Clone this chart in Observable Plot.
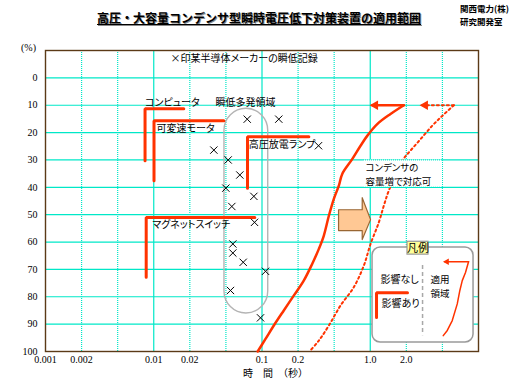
<!DOCTYPE html>
<html><head><meta charset="utf-8">
<script src="https://cdn.jsdelivr.net/npm/d3@7"></script>
<script src="https://cdn.jsdelivr.net/npm/@observablehq/plot@0.6"></script>
<style>
body{margin:0;background:#fff;}
#wrap{position:relative;width:514px;height:383px;overflow:hidden;}
#chart{position:absolute;left:0;top:0;}
.jp{position:absolute;font-family:"Noto Sans CJK JP",sans-serif;color:#000;white-space:nowrap;}
#title{left:97px;top:11px;font-size:12px;line-height:14px;font-weight:bold;text-decoration:underline;text-shadow:1px 1px 0 #8a8a8a;}
#org{left:460px;top:2px;font-size:8.5px;line-height:12.5px;font-weight:bold;}
#org div{height:12.5px;}
#xlab{left:243px;top:367px;font-size:10px;line-height:11px;}
#ylab{position:absolute;left:21px;top:42px;font-family:"Liberation Serif",serif;font-size:10px;line-height:12px;}
svg g[aria-label="text"] text{font-feature-settings:"palt";}
</style>
</head><body>
<div id="wrap">
<div id="chart"></div>
<div class="jp" id="title">高圧・大容量コンデンサ型瞬時電圧低下対策装置の適用範囲</div>
<div class="jp" id="org"><div>関西電力(株)</div><div>研究開発室</div></div>
<div class="jp" id="xlab">時　間　（秒）</div>
<div id="ylab">(%)</div>
</div>
<script>
// ---- axes ----
const xBreaks = [0.001,0.002,0.005,0.01,0.02,0.05,0.1,0.2,0.5,1,2,5,10];
const xTickValues = [0.001,0.002,0.005,0.01,0.02,0.05,0.1,0.2,0.5,1,2,5];
const xTickLabels = ["0.001","0.002","0.005","0.01","0.02","0.05","0.1","0.2","0.5","1.0","2.0","5.0"];
const xSolidGrid = [0.01,0.1,1];
const xDottedGrid = [0.002,0.005,0.02,0.05,0.2,0.5,2,5];
const yTickValues = [0,10,20,30,40,50,60,70,80,90,100];
const yGridValues = [0,10,20,30,40,50,60,70,80,90];

// ---- × records of a semiconductor maker (time s, dip %) ----
const recordTime = [0.0753,0.138,0.0368,0.0522,0.0653,0.0499,0.0855,0.0560,0.0866,0.0571,0.0571,0.0697,0.107,0.0546,0.0972,0.336];
const recordDrop = [15.1,15.1,26.4,30.0,35.5,40.3,43.3,47.0,52.8,60.7,64.0,67.4,70.7,77.7,87.7,24.8];

// ---- equipment sensitivity brackets ----
const equipNames = ["コンピュータ","可変速モータ","高圧放電ランプ","マグネットスイッチ"];
const equipTime = [0.00846,0.01005,0.0757,0.00865];
const equipTimeEnd = [0.0178,0.0474,0.263,0.0871];
const equipDropTop = [11.3,15.7,21.5,51.0];
const equipDropBottom = [30.3,37.6,40.3,72.9];
const equipLabelTime = [0.00846,0.01055,0.0776,0.00971];
const equipLabelDrop = [9.0,18.5,24.5,53.8];

// ---- frequent dip region ----
const regionTime = [0.0482,0.1127];
const regionDrop = [11.3,86.1];

// ---- application limit curves ----
const stdTime = [1.906,1.476,1.143,0.943,0.830,0.707,0.584,0.547,0.495,0.437,0.384,0.339,0.286,0.231,0.184,0.152,0.1255,0.107,0.092];
const stdDrop = [10,13.2,16.9,21.2,24.8,29.7,35.1,39.4,44.3,50.4,57.7,62.5,68.0,74.1,79.6,85.0,90.5,95.4,100];
const bigTime = [6.23,4.98,3.86,2.87,2.22,1.848,1.429,1.298,1.179,1.006,0.884,0.729,0.565,0.437,0.339,0.267];
const bigDrop = [10,13.9,17.5,22.4,26.6,30.3,41.2,46.7,52.8,60.7,68.6,76.5,83.2,90.5,96,100];
const arrowDrop = 10;
const stdArrowTip = 1.039;
const bigArrowTip = 2.99;

// ---- block arrow "容量増" ----
const blockTime = [0.544,0.857,0.857,1.006,0.857,0.857,0.544,0.544];
const blockDrop = [48.2,48.2,43.8,51.8,59.1,55.8,55.8,48.2];
const noteLines = ["コンデンサの","容量増で対応可"];
const noteTime = 0.913;
const noteDrop = [33.0,37.9];
const noteBoxTime = [0.877,5.0];
const noteBoxDrop = [30,40];

// ---- legend (drawn in data space) ----
const legBoxTime = [1.045,9.09], legBoxDrop = [62.0,96.7];
const legTitleTime = [2.06,3.51], legTitleDrop = [59.9,64.6];
const legTitleAt = [2.69,62.3];
const legNoneAt = [1.218,73.7];
const legYesAt = [1.242,82.5];
const legBracketTime = [2.06,1.128,1.128], legBracketDrop = [78.5,78.5,87.6];
const legDashTime = 3.02, legDashDrop = [68.6,94.2];
const legAreaTime = 3.70, legAreaDrop = [74.0,78.9], legAreaText = ["適用","領域"];
const legCurveTime = [8.26,7.79,7.32,6.99,6.65,6.04,5.49,5.08];
const legCurveDrop = [67.2,71.1,74.1,77.7,82.6,88.7,92.3,94.2];
const legArrowTip = 5.24;

// ---- build ----
const W = 514, H = 383, mL = 45, mR = 36, mT = 50, mB = 32;
const xRange = xBreaks.map((_, i) => mL + i * (W - mL - mR) / (xBreaks.length - 1));
const RED = "#ff3300", CYAN = "#00e8c8", JP = "Noto Sans CJK JP";
const pts = (xs, ys) => xs.map((x, i) => ({x, y: ys[i]}));
const records = pts(recordTime, recordDrop);
const brackets = equipNames.flatMap((n, i) => [
  {n, x: equipTimeEnd[i], y: equipDropTop[i]},
  {n, x: equipTime[i], y: equipDropTop[i]},
  {n, x: equipTime[i], y: equipDropBottom[i]}]);
const equipLabels = equipNames.map((n, i) => ({n, x: equipLabelTime[i], y: equipLabelDrop[i]}));
const txt = {fontFamily: JP, fontSize: 10, fill: "#000", textAnchor: "start"};

const chart = Plot.plot({
  width: W, height: H, marginLeft: mL, marginRight: mR, marginTop: mT, marginBottom: mB,
  style: {fontFamily: "'Liberation Serif', serif", fontSize: "10px", background: "transparent", color: "#000"},
  x: {type: "log", domain: xBreaks, range: xRange, ticks: xTickValues,
      tickFormat: d => xTickLabels[xTickValues.indexOf(d)], tickSize: 0, tickPadding: 4, label: null},
  y: {domain: [-10, 100], reverse: true, ticks: yTickValues, tickSize: 0, tickPadding: 8, label: null},
  marks: [
    Plot.ruleY(yGridValues, {stroke: CYAN, strokeWidth: 1.2}),
    Plot.ruleX(xSolidGrid, {stroke: CYAN, strokeWidth: 1.2}),
    Plot.ruleX(xDottedGrid, {stroke: CYAN, strokeWidth: 1.2, strokeDasharray: "1,1"}),
    Plot.frame({stroke: "#5b3a17", strokeWidth: 1.4}),
    // frequent dip region
    Plot.rect([{x1: regionTime[0], x2: regionTime[1], y1: regionDrop[0], y2: regionDrop[1]}],
      {x1: "x1", x2: "x2", y1: "y1", y2: "y2", rx: 22, fill: "none", stroke: "#b4b4b4", strokeWidth: 1.4}),
    // brackets
    Plot.line(brackets, {x: "x", y: "y", z: "n", stroke: RED, strokeWidth: 3, strokeLinejoin: "miter"}),
    Plot.text(equipLabels, {x: "x", y: "y", text: "n", ...txt}),
    // records
    Plot.dot(records, {x: "x", y: "y", symbol: "times", r: 3.4, stroke: "#000", strokeWidth: 1}),
    // curves
    Plot.line(pts(stdTime, stdDrop), {x: "x", y: "y", stroke: RED, strokeWidth: 2.5, curve: "catmull-rom"}),
    Plot.line(pts(bigTime, bigDrop), {x: "x", y: "y", stroke: RED, strokeWidth: 2, strokeDasharray: "2,3", curve: "catmull-rom"}),
    Plot.line(pts([stdTime[0], stdArrowTip], [arrowDrop, arrowDrop]), {x: "x", y: "y", stroke: RED, strokeWidth: 2.5}),
    Plot.line(pts([bigTime[0], bigArrowTip], [arrowDrop, arrowDrop]), {x: "x", y: "y", stroke: RED, strokeWidth: 2, strokeDasharray: "2,3"}),
    Plot.dot(pts([stdArrowTip, bigArrowTip], [arrowDrop, arrowDrop]), {x: "x", y: "y", symbol: "triangle", rotate: -90, r: 3.6, fill: RED, dx: 3}),
    // block arrow
    Plot.line(pts(blockTime, blockDrop), {x: "x", y: "y", fill: "#ffc894", stroke: "#996633", strokeWidth: 1.2}),
    // note box
    Plot.rect([{x1: noteBoxTime[0], x2: noteBoxTime[1], y1: noteBoxDrop[0], y2: noteBoxDrop[1]}],
      {x1: "x1", x2: "x2", y1: "y1", y2: "y2", fill: "#fff"}),
    Plot.ruleY(noteBoxDrop, {x1: noteBoxTime[0], x2: noteBoxTime[1], stroke: CYAN, strokeWidth: 1.2, strokeDasharray: "1,1"}),
    Plot.text(noteLines, {x: noteTime, y: (d, i) => noteDrop[i], text: d => d, ...txt, fontSize: 9.5}),
    Plot.text(["×印某半導体メーカーの瞬低記録"], {x: 0.0138, y: -7.1, text: d => d, ...txt}),
    Plot.text(["瞬低多発領域"], {x: 0.0384, y: 9.0, text: d => d, ...txt}),
    // legend
    Plot.rect([{x1: legBoxTime[0], x2: legBoxTime[1], y1: legBoxDrop[0], y2: legBoxDrop[1]}],
      {x1: "x1", x2: "x2", y1: "y1", y2: "y2", rx: 8, fill: "#fff", stroke: "#9a9a9a", strokeWidth: 1.5}),
    Plot.rect([{x1: legTitleTime[0], x2: legTitleTime[1], y1: legTitleDrop[0], y2: legTitleDrop[1]}],
      {x1: "x1", x2: "x2", y1: "y1", y2: "y2", fill: "#ffff99", stroke: "#9a9a9a", strokeWidth: 1.2}),
    Plot.text(["凡例"], {x: legTitleAt[0], y: legTitleAt[1], text: d => d, ...txt, fontSize: 11, textAnchor: "middle"}),
    Plot.text(["影響なし"], {x: legNoneAt[0], y: legNoneAt[1], text: d => d, ...txt}),
    Plot.text(["影響あり"], {x: legYesAt[0], y: legYesAt[1], text: d => d, ...txt}),
    Plot.line(pts(legBracketTime, legBracketDrop), {x: "x", y: "y", stroke: RED, strokeWidth: 3, strokeLinejoin: "miter"}),
    Plot.ruleX([legDashTime], {y1: legDashDrop[0], y2: legDashDrop[1], stroke: "#a8a8a8", strokeWidth: 1.5, strokeDasharray: "4,3"}),
    Plot.text(legAreaText, {x: legAreaTime, y: (d, i) => legAreaDrop[i], text: d => d, ...txt, fontSize: 9.5}),
    Plot.line(pts(legCurveTime, legCurveDrop), {x: "x", y: "y", stroke: RED, strokeWidth: 1.5}),
    Plot.line(pts([legCurveTime[0], legArrowTip], [legCurveDrop[0], legCurveDrop[0]]), {x: "x", y: "y", stroke: RED, strokeWidth: 1.5}),
    Plot.dot(pts([legArrowTip], [legCurveDrop[0]]), {x: "x", y: "y", symbol: "triangle", rotate: -90, r: 2.5, fill: RED, dx: 2})
  ]
});
document.getElementById("chart").appendChild(chart);
</script>
</body></html>
